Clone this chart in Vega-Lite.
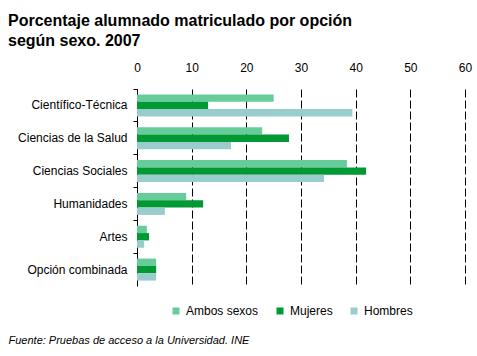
{
  "$schema": "https://vega.github.io/schema/vega-lite/v6.json",
  "autosize": {"type": "none"},
  "width": 328,
  "height": 197,
  "padding": {"left": 137, "top": 89, "right": 12, "bottom": 70},
  "background": "white",
  "config": {
    "view": {"stroke": null},
    "font": "Liberation Sans"
  },
  "title": {
    "text": ["Porcentaje alumnado matriculado por opción", "según sexo. 2007"],
    "anchor": "start",
    "frame": "group",
    "dx": -129,
    "fontSize": 16,
    "fontWeight": "bold",
    "font": "Liberation Sans",
    "color": "black",
    "lineHeight": 20,
    "offset": 12
  },
  "data": {
    "values": [
      {"opcion": "Científico-Técnica", "sexo": "Ambos sexos", "valor": 25.0},
      {"opcion": "Científico-Técnica", "sexo": "Mujeres", "valor": 13.0},
      {"opcion": "Científico-Técnica", "sexo": "Hombres", "valor": 39.4},
      {"opcion": "Ciencias de la Salud", "sexo": "Ambos sexos", "valor": 22.9},
      {"opcion": "Ciencias de la Salud", "sexo": "Mujeres", "valor": 27.8},
      {"opcion": "Ciencias de la Salud", "sexo": "Hombres", "valor": 17.2},
      {"opcion": "Ciencias Sociales", "sexo": "Ambos sexos", "valor": 38.4},
      {"opcion": "Ciencias Sociales", "sexo": "Mujeres", "valor": 41.9},
      {"opcion": "Ciencias Sociales", "sexo": "Hombres", "valor": 34.2},
      {"opcion": "Humanidades", "sexo": "Ambos sexos", "valor": 9.0},
      {"opcion": "Humanidades", "sexo": "Mujeres", "valor": 12.1},
      {"opcion": "Humanidades", "sexo": "Hombres", "valor": 5.1},
      {"opcion": "Artes", "sexo": "Ambos sexos", "valor": 1.8},
      {"opcion": "Artes", "sexo": "Mujeres", "valor": 2.2},
      {"opcion": "Artes", "sexo": "Hombres", "valor": 1.3},
      {"opcion": "Opción combinada", "sexo": "Ambos sexos", "valor": 3.5},
      {"opcion": "Opción combinada", "sexo": "Mujeres", "valor": 3.5},
      {"opcion": "Opción combinada", "sexo": "Hombres", "valor": 3.5}
    ]
  },
  "mark": {"type": "bar"},
  "encoding": {
    "y": {
      "field": "opcion",
      "type": "nominal",
      "sort": ["Científico-Técnica", "Ciencias de la Salud", "Ciencias Sociales", "Humanidades", "Artes", "Opción combinada"],
      "scale": {"paddingInner": 0, "paddingOuter": 0},
      "axis": {
        "title": "Fuente: Pruebas de acceso a la Universidad. INE",
        "titleAngle": 0,
        "titleAlign": "left",
        "titleBaseline": "alphabetic",
        "titleX": -129,
        "titleY": 254,
        "titleFontSize": 11,
        "titleFontStyle": "italic",
        "titleFontWeight": "normal",
        "titleColor": "black",
        "bandPosition": 0,
        "domainColor": "black",
        "domainWidth": 1,
        "tickColor": "black",
        "tickSize": 4,
        "labelPadding": 6,
        "labelFontSize": 12,
        "labelColor": "black",
        "grid": false
      }
    },
    "yOffset": {
      "field": "sexo",
      "type": "nominal",
      "sort": ["Ambos sexos", "Mujeres", "Hombres"],
      "scale": {"paddingInner": 0, "paddingOuter": 0.74}
    },
    "x": {
      "field": "valor",
      "type": "quantitative",
      "scale": {"domain": [0, 60], "nice": false},
      "axis": {
        "orient": "top",
        "title": null,
        "values": [0, 10, 20, 30, 40, 50, 60],
        "domain": false,
        "ticks": false,
        "labelFlush": false,
        "labelPadding": 15,
        "labelFontSize": 12,
        "labelColor": "black",
        "grid": true,
        "gridColor": "black",
        "gridDash": [8, 3],
        "gridWidth": 1,
        "gridOpacity": 1
      }
    },
    "color": {
      "field": "sexo",
      "type": "nominal",
      "sort": ["Ambos sexos", "Mujeres", "Hombres"],
      "scale": {"domain": ["Ambos sexos", "Mujeres", "Hombres"], "range": ["#66CC99", "#009933", "#99CCCC"]},
      "legend": {
        "title": null,
        "orient": "none",
        "direction": "horizontal",
        "legendX": 33,
        "legendY": 216,
        "padding": 0,
        "symbolType": "square",
        "symbolSize": 49,
        "symbolStrokeWidth": 0,
        "symbolOpacity": 1,
        "labelFontSize": 12,
        "labelColor": "black",
        "labelOffset": 4,
        "columnPadding": 15
      }
    }
  }
}
